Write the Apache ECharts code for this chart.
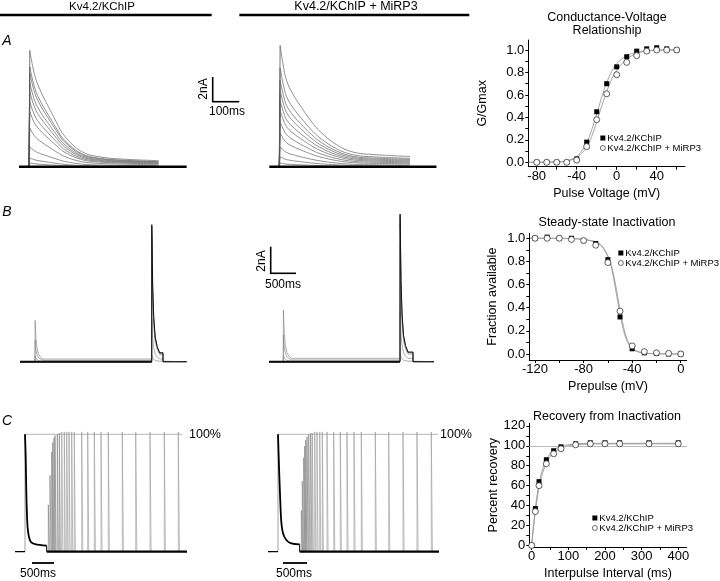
<!DOCTYPE html>
<html><head><meta charset="utf-8">
<script src="https://cdn.jsdelivr.net/npm/echarts@6/dist/echarts.min.js"></script>
<style>html,body{margin:0;padding:0;background:#fff}#c{width:720px;height:581px}</style>
</head><body><div id="c"></div>
<script>
// ================= DATA =================
// --- Panel A: current traces (time in ms, current in nA) ---
const aTimesKChIP = [0, 3, 22, 45, 71, 100, 133, 195, 257, 350, 480];
const aDecayKChIP = [0, 1, 0.78, 0.64, 0.52, 0.39, 0.26, 0.13, 0.086, 0.065, 0.052];
const aPeaksKChIP = [9.3, 8.0, 7.5, 6.7, 6.0, 5.2, 4.4, 3.1, 1.6, 0.7, 0.3];
const aTimesMiRP3 = [0, 3, 15, 27, 50, 89, 120, 151, 213, 274, 350, 484];
const aDecayMiRP3 = [0, 1, 0.83, 0.71, 0.6, 0.466, 0.37, 0.29, 0.18, 0.12, 0.10, 0.085];
const aPeaksMiRP3 = [9.7, 7.9, 6.9, 6.1, 5.3, 4.5, 3.6, 2.7, 1.6, 0.8, 0.3];

// --- Panel B: steady-state inactivation traces ---
const bDecayTimes = [0, 2, 20, 40, 70, 110, 160];
const bDecayFrac = [0, 1, 0.55, 0.33, 0.18, 0.11, 0.065];
const bTestOnset = 2334;
const bTestEndKChIP = 2560;
const bTestEndMiRP3 = 2594;
const bPrePeaksKChIP = [0, 0, 0, 0.4, 1.6, 3.1];
const bTestPeaksKChIP = [10.3, 10.1, 9.6, 8.2, 3.2, 0.5];
const bPrePeaksMiRP3 = [0, 0, 0, 0.5, 2.0, 3.9];
const bTestPeaksMiRP3 = [11.1, 10.9, 10.4, 8.8, 3.8, 0.6];

// --- Panel C: recovery traces (time in ms, % of control) ---
const cDecayTimesKChIP = [0, 16, 30, 45, 61, 91, 136, 227, 493];
const cDecayKChIP = [100, 80, 51, 31, 20, 12.5, 8.2, 6.5, 5.1];
const cDecayTimesMiRP3 = [0, 25, 52, 75, 114, 189, 303, 492];
const cDecayMiRP3 = [100, 70, 43, 25.5, 15.7, 10, 7.1, 6.3];
const cSpikeTimesKChIP = [530,568,607,630,659,682,734,780,834,893,948,1000,1061,1120,1289,1425,1575,1727,1893,2211,2516,2841,3166,3484];
const cSpikePeaksKChIP = [40,65,85,93,97,99,100,101,102,102,102,102,102,102,102,102,102,102,102,102,102,102,102,102];
const cSpikeTimesMiRP3 = [530,552,584,607,630,659,698,743,780,834,886,948,1007,1114,1266,1416,1568,1727,1893,2211,2516,2841,3159,3484];
const cSpikePeaksMiRP3 = [35,60,80,90,95,98,100,101,101,102,102,102,102,102,102,102,102,102,102,102,102,102,102,102];
const cRefEndKChIP = 3568;
const cRefEndMiRP3 = 3636;

// --- Conductance-voltage ---
const gvVoltage = [-80,-70,-60,-50,-40,-30,-20,-10,0,10,20,30,40,50,60];
const gvKChIP = [0,0,0,0,0.03,0.18,0.45,0.70,0.85,0.94,0.99,1.01,1.02,1.01,1.0];
const gvMiRP3 = [0,0,0,0,0.02,0.14,0.38,0.61,0.78,0.89,0.95,0.99,1.0,1.0,1.0];
const gvFitKChIP = [[-88,0],[-60,0.004],[-50,0.013],[-40,0.05],[-35,0.1],[-30,0.17],[-25,0.29],[-20,0.43],[-15,0.58],[-10,0.71],[-5,0.81],[0,0.88],[10,0.95],[20,0.98],[30,0.995],[45,1.0],[60,1.0]];
const gvFitMiRP3 = [[-88,0],[-60,0.003],[-50,0.01],[-40,0.04],[-35,0.08],[-30,0.13],[-25,0.23],[-20,0.36],[-15,0.5],[-10,0.63],[-5,0.74],[0,0.82],[10,0.92],[20,0.97],[30,0.99],[45,1.0],[60,1.0]];
const gvXTicks = [-80,-40,0,40];
const gvYTicks = [0,0.2,0.4,0.6,0.8,1.0];

// --- Steady-state inactivation ---
const ssiVoltage = [-120,-110,-100,-90,-80,-70,-60,-50,-40,-30,-20,-10,0];
const ssiKChIP = [1.0,1.01,1.0,1.0,0.98,0.955,0.815,0.32,0.045,0.01,0.005,0.0,0.0];
const ssiMiRP3 = [1.0,1.0,1.0,0.99,0.98,0.94,0.79,0.37,0.07,0.02,0.01,0.005,0.0];
const ssiFitKChIP = [[-124,1],[-90,0.998],[-80,0.99],[-70,0.965],[-65,0.93],[-60,0.84],[-57,0.74],[-55,0.64],[-53,0.52],[-51,0.4],[-49,0.29],[-47,0.2],[-45,0.13],[-42,0.07],[-38,0.03],[-30,0.006],[0,0]];
const ssiFitMiRP3 = [[-124,1],[-90,0.998],[-80,0.99],[-70,0.97],[-65,0.935],[-60,0.85],[-57,0.76],[-55,0.67],[-53,0.56],[-51,0.44],[-49,0.33],[-47,0.23],[-45,0.15],[-42,0.08],[-38,0.035],[-30,0.007],[0,0]];
const ssiXTicks = [-120,-80,-40,0];
const ssiYTicks = [0,0.2,0.4,0.6,0.8,1.0];

// --- Recovery from inactivation ---
const recInterval = [0,10,20,40,60,80,120,160,200,240,320,400];
const recKChIP = [0,37,64,86,95,99,102,103,103,103,103,103];
const recMiRP3 = [0,34,60,82,92,97,101,102,102,102,102,102];
const recFitKChIP = [[0,0],[5,20],[10,37],[15,51],[20,62],[30,77],[40,86],[50,92],[60,96],[80,99.5],[100,101],[120,102],[160,102.5],[400,102.5]];
const recFitMiRP3 = [[0,0],[5,18],[10,34],[15,47],[20,58],[30,73],[40,82],[50,89],[60,93],[80,97.5],[100,100],[120,101],[160,101.8],[400,102]];
const recXTicks = [0,100,200,300,400];
const recYTicks = [0,20,40,60,80,100,120];

const seriesNames = ['Kv4.2/KChIP', 'Kv4.2/KChIP + MiRP3'];

// ================= LAYOUT =================
const FONT = 'Liberation Sans, Arial, Helvetica, sans-serif';
function gridFor(x0, y0, kx, ky, xr, yr) {
  return { left: x0 + kx * xr[0], top: y0 - ky * yr[1], width: kx * (xr[1] - xr[0]), height: ky * (yr[1] - yr[0]) };
}
const traceGrids = [
  { g: gridFor(29, 166.7, 0.27, 12.5, [-37, 584], [-1, 10]), xr: [-37, 584], yr: [-1, 10] },       // 0 A left
  { g: gridFor(279.3, 166.7, 0.27, 12.5, [-37, 582], [-1, 10.5]), xr: [-37, 582], yr: [-1, 10.5] }, // 1 A mid
  { g: gridFor(35, 361.7, 0.05, 13.3, [-300, 3034], [-1, 11]), xr: [-300, 3034], yr: [-1, 11] },   // 2 B left
  { g: gridFor(283.3, 361.7, 0.05, 13.3, [-286, 3014], [-1, 12]), xr: [-286, 3014], yr: [-1, 12] },// 3 B mid
  { g: gridFor(25, 551.7, 0.044, 1.174, [-227, 3682], [-5, 108]), xr: [-227, 3682], yr: [-5, 108] },// 4 C left
  { g: gridFor(278, 551.7, 0.044, 1.174, [-227, 3659], [-5, 108]), xr: [-227, 3659], yr: [-5, 108] } // 5 C mid
];
const plotGrids = [
  { g: { left: 528.3, top: 40, width: 156.7, height: 126.7 }, xr: [-88.4, 68.3], yr: [-0.039, 1.089] },
  { g: { left: 529.3, top: 233.3, width: 157.4, height: 126.7 }, xr: [-124.7, 4.9], yr: [-0.052, 1.043] },
  { g: { left: 529.3, top: 423.3, width: 157.4, height: 128.4 }, xr: [-6.5, 423], yr: [-1.6, 122.6] }
];

const grid = [], xAxis = [], yAxis = [], series = [];
traceGrids.forEach((t, i) => {
  grid.push(t.g);
  xAxis.push({ gridIndex: i, type: 'value', min: t.xr[0], max: t.xr[1], show: false });
  yAxis.push({ gridIndex: i, type: 'value', min: t.yr[0], max: t.yr[1], show: false });
});
function rng(a, b, s) { const r = []; for (let v = a; v <= b + 1e-9; v += s) r.push(+v.toFixed(3)); return r; }
const plotAxes = [
  { xt: gvXTicks, xTickAll: rng(-80, 60, 20), yt: gvYTicks, yTickAll: rng(0, 1, 0.1), xn: 'Pulse Voltage (mV)', yn: 'G/Gmax', yfmt: v => v.toFixed(1), yGap: 39 },
  { xt: ssiXTicks, xTickAll: rng(-120, 0, 20), yt: ssiYTicks, yTickAll: rng(0, 1, 0.1), xn: 'Prepulse (mV)', yn: 'Fraction available', yfmt: v => v.toFixed(1), yGap: 30 },
  { xt: recXTicks, xTickAll: rng(0, 400, 50), yt: recYTicks, yTickAll: rng(0, 120, 10), xn: 'Interpulse Interval (ms)', yn: 'Percent recovery', yfmt: v => String(Math.round(v)), yGap: 28 }
];
const axisCommon = {
  axisLine: { show: true, onZero: false, lineStyle: { color: '#000', width: 1 } },
  splitLine: { show: false },
  nameLocation: 'middle',
  nameTextStyle: { color: '#000', fontSize: 12.5, fontFamily: FONT }
};
plotGrids.forEach((p, k) => {
  const gi = 6 + k, a = plotAxes[k];
  grid.push(p.g);
  xAxis.push(Object.assign({}, axisCommon, {
    gridIndex: gi, type: 'value', min: p.xr[0], max: p.xr[1], name: a.xn, nameGap: 20,
    axisTick: { show: true, customValues: a.xTickAll, length: 3, lineStyle: { color: '#000' } },
    axisLabel: { show: true, customValues: a.xt, color: '#000', fontSize: 13, fontFamily: FONT, margin: 3 }
  }));
  yAxis.push(Object.assign({}, axisCommon, {
    gridIndex: gi, type: 'value', min: p.yr[0], max: p.yr[1], name: a.yn, nameGap: a.yGap,
    axisTick: { show: true, customValues: a.yTickAll, length: 3, lineStyle: { color: '#000' } },
    axisLabel: { show: true, customValues: a.yt, color: '#000', fontSize: 13, fontFamily: FONT, margin: 4, formatter: a.yfmt }
  }));
});

function line(gi, data, color, width, z, smooth) {
  return { type: 'line', xAxisIndex: gi, yAxisIndex: gi, data: data, showSymbol: false, symbol: 'none',
    clip: false, silent: true, smooth: smooth || false, lineStyle: { color: color, width: width }, z: z || 2 };
}

// ---- Panel A traces: straight onset + smooth decay ----
[[0, aTimesKChIP, aDecayKChIP, aPeaksKChIP], [1, aTimesMiRP3, aDecayMiRP3, aPeaksMiRP3]].forEach(([gi, tm, dc, pk]) => {
  const xr = traceGrids[gi].xr;
  series.push(line(gi, [[xr[0], 0], [xr[1], 0]], '#000', 2.6, 3));
  pk.forEach(p => {
    const pts = tm.map((t, i) => [t, p * dc[i]]);
    series.push(line(gi, pts.slice(0, 2), '#555', 0.8, 2));
    series.push(line(gi, pts.slice(1), '#747474', 0.8, 2, 0.4));
  });
});

// ---- Panel B traces ----
function bTrace(pre, test, end, xr) {
  const last = bDecayFrac[bDecayFrac.length - 1];
  const d = [[xr[0], 0]];
  bDecayTimes.forEach((t, i) => d.push([t, pre * bDecayFrac[i]]));
  const hold = pre * last;
  d.push([bTestOnset, hold]);
  bDecayTimes.forEach((t, i) => { if (i > 0) d.push([bTestOnset + t, test * bDecayFrac[i]]); });
  d.push([end, test * last]);
  d.push([end, 0]);
  d.push([xr[1], 0]);
  return d;
}
[[2, bPrePeaksKChIP, bTestPeaksKChIP, bTestEndKChIP], [3, bPrePeaksMiRP3, bTestPeaksMiRP3, bTestEndMiRP3]].forEach(([gi, pre, test, end]) => {
  const xr = traceGrids[gi].xr;
  series.push(line(gi, [[xr[0], 0], [bTestOnset, 0]], '#000', 2, 3));
  pre.forEach((p, i) => series.push(line(gi, bTrace(p, test[i], end, xr), i === 0 ? '#111' : '#8a8a8a', i === 0 ? 1 : 0.7, i === 0 ? 4 : 2)));
});

// ---- Panel C traces ----
[[4, cDecayTimesKChIP, cDecayKChIP, cSpikeTimesKChIP, cSpikePeaksKChIP, cRefEndKChIP],
 [5, cDecayTimesMiRP3, cDecayMiRP3, cSpikeTimesMiRP3, cSpikePeaksMiRP3, cRefEndMiRP3]].forEach(([gi, dt, dv, st, sp, refEnd]) => {
  const xr = traceGrids[gi].xr;
  const tEnd = dt[dt.length - 1];
  series.push(line(gi, [[0, 100], [refEnd, 100]], '#b5b5b5', 1, 1));
  series.push(line(gi, [[xr[0], 0], [dt[0], 0]], '#000', 1.2, 3));
  series.push(line(gi, [[dt[0], 0], [dt[0], dv[0]]], '#888', 0.8, 2));
  const decay = dt.map((t, i) => [t, dv[i]]);
  series.push(line(gi, decay, '#000', 1.8, 4, 0.3));
  series.push(line(gi, [[tEnd, dv[dv.length - 1]], [tEnd, 0]], '#000', 1, 4));
  st.forEach((t, i) => series.push(line(gi, [[t, 0], [t, sp[i]], [t + 25, 0]], i < 8 ? '#8a8a8a' : '#a0a0a0', 0.7, 2)));
  series.push(line(gi, [[tEnd, 0], [xr[1], 0]], '#000', 2.2, 5));
});

// ---- Right-hand plots ----
function scatterPair(gi, xs, y1, y2) {
  series.push({ type: 'scatter', name: seriesNames[0], xAxisIndex: gi, yAxisIndex: gi, symbol: 'rect', symbolSize: 5,
    itemStyle: { color: '#000', opacity: 1 }, data: xs.map((x, i) => [x, y1[i]]), z: 5, silent: true });
  series.push({ type: 'scatter', name: seriesNames[1], xAxisIndex: gi, yAxisIndex: gi, symbol: 'circle', symbolSize: 6,
    itemStyle: { color: '#fff', borderColor: '#333', borderWidth: 0.8, opacity: 1 }, data: xs.map((x, i) => [x, y2[i]]), z: 6, silent: true });
}
function fit(gi, data) {
  series.push({ type: 'line', xAxisIndex: gi, yAxisIndex: gi, data: data, showSymbol: false, symbol: 'none', smooth: 0.3,
    lineStyle: { color: '#9a9a9a', width: 0.9 }, z: 3, silent: true });
}
fit(6, gvFitKChIP); fit(6, gvFitMiRP3);
scatterPair(6, gvVoltage, gvKChIP, gvMiRP3);
fit(7, ssiFitKChIP); fit(7, ssiFitMiRP3);
scatterPair(7, ssiVoltage, ssiKChIP, ssiMiRP3);
series.push({ type: 'line', xAxisIndex: 8, yAxisIndex: 8, data: [], markLine: { silent: true, symbol: 'none', label: { show: false },
  lineStyle: { color: '#bbb', type: 'solid', width: 1 }, data: [{ yAxis: 100 }] }, z: 1 });
fit(8, recFitKChIP); fit(8, recFitMiRP3);
scatterPair(8, recInterval, recKChIP, recMiRP3);

function legendAt(left, top) {
  return { left: left, top: top, orient: 'vertical', itemWidth: 5, itemHeight: 5, itemGap: 0, padding: 0,
    selectedMode: false, data: seriesNames, itemStyle: { opacity: 1, borderWidth: 0.7 },
    textStyle: { fontSize: 9.5, fontFamily: FONT, color: '#000', lineHeight: 8.5, padding: [0, 0, 0, -3] } };
}

// ---- Annotations ----
function txt(x, y, s, size, opt) {
  return Object.assign({ type: 'text', x: x, y: y, silent: true,
    style: Object.assign({ text: s, fill: '#000', font: (opt && opt.font) || (size + 'px ' + FONT), textAlign: 'center', textVerticalAlign: 'middle' }, (opt && opt.style) || {}) },
    opt && opt.rotation ? { rotation: opt.rotation } : {});
}
function seg(x1, y1, x2, y2, w) {
  return { type: 'line', silent: true, shape: { x1: x1, y1: y1, x2: x2, y2: y2 }, style: { stroke: '#000', lineWidth: w } };
}
const graphic = [
  txt(102, 7, 'Kv4.2/KChIP', 11.5),
  seg(0, 15, 211.7, 15, 2.6),
  txt(356, 7, 'Kv4.2/KChIP + MiRP3', 12.5),
  seg(239.3, 15, 469.3, 15, 2.6),
  txt(7, 41, 'A', 14, { font: 'italic 14px ' + FONT }),
  txt(7, 212, 'B', 14, { font: 'italic 14px ' + FONT }),
  txt(7, 421, 'C', 14, { font: 'italic 14px ' + FONT }),
  // scale bars
  seg(212.7, 77, 212.7, 102, 1.6), seg(212, 101.7, 239.3, 101.7, 1.6),
  txt(203.5, 89, '2nA', 12, { rotation: Math.PI / 2 }),
  txt(227, 112, '100ms', 12),
  seg(270.7, 246.7, 270.7, 274, 1.6), seg(270, 273.3, 296, 273.3, 1.6),
  txt(262, 261, '2nA', 12, { rotation: Math.PI / 2 }),
  txt(283, 285, '500ms', 12),
  seg(32, 563, 54, 563, 1.8), txt(38, 574, '500ms', 12),
  seg(283, 563, 307, 563, 1.8), txt(294, 574, '500ms', 12),
  txt(189, 435, '100%', 12.5, { style: { textAlign: 'left' } }),
  txt(440, 435, '100%', 12.5, { style: { textAlign: 'left' } }),
  // plot titles
  txt(607, 18, 'Conductance-Voltage', 12.5),
  txt(607, 30.5, 'Relationship', 12.5),
  txt(607, 223, 'Steady-state Inactivation', 12.5),
  txt(607, 417, 'Recovery from Inactivation', 12.5)
];

const chart = echarts.init(document.getElementById('c'), null, { renderer: 'canvas' });
chart.setOption({
  animation: false,
  backgroundColor: '#fff',
  textStyle: { fontFamily: FONT },
  grid: grid, xAxis: xAxis, yAxis: yAxis, series: series,
  legend: [legendAt(600, 133), legendAt(618, 248), legendAt(592, 513)],
  graphic: graphic
});
</script></body></html>
